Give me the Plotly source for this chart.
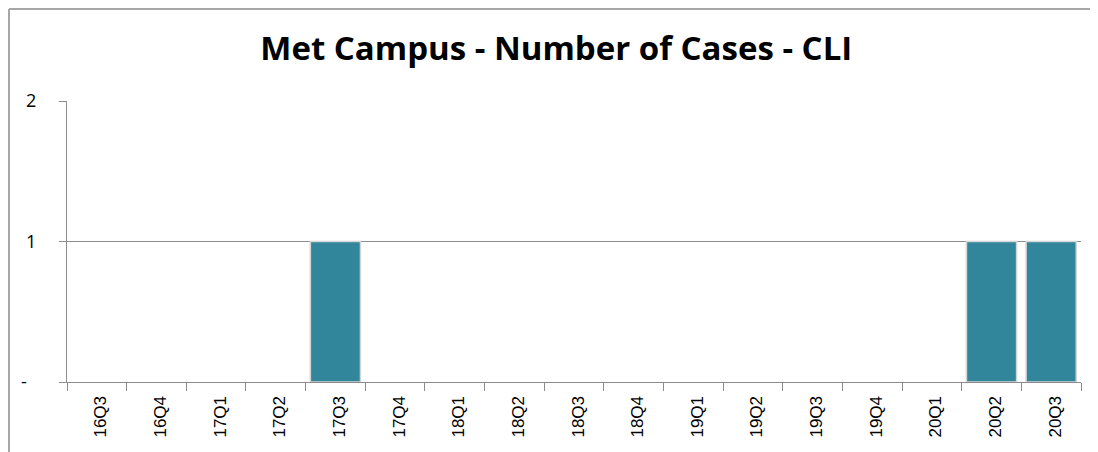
import plotly.graph_objects as go

categories = ["16Q3", "16Q4", "17Q1", "17Q2", "17Q3", "17Q4", "18Q1", "18Q2", "18Q3",
              "18Q4", "19Q1", "19Q2", "19Q3", "19Q4", "20Q1", "20Q2", "20Q3"]
cases = [0, 0, 0, 0, 1, 0, 0, 0, 0, 0, 0, 0, 0, 0, 0, 1, 1]
y_tickvals = [0, 1, 2]
y_ticktext = ["-\u00a0\u00a0", "1", "2"]
title_text = "Met Campus - Number of Cases - CLI"

GRID = "#8c8c8c"

fig = go.Figure(go.Bar(
    x=categories, y=cases,
    marker=dict(color="#31869B",
                line=dict(color="#d4d4d4", width=[1.5 if v else 0 for v in cases])),
    hoverinfo="x+y",
))

fig.update_layout(
    width=1090, height=444,
    margin=dict(l=59, r=17, t=93, b=70, autoexpand=False),
    paper_bgcolor="white", plot_bgcolor="white",
    bargap=0.16,
    showlegend=False,
    title=dict(text="<b>" + title_text + "</b>", x=0.503, xanchor="center",
               y=0.908, yanchor="middle",
               font=dict(family="Open Sans, sans-serif", size=33, color="black")),
    xaxis=dict(
        type="category", tickson="boundaries", ticks="outside", ticklen=8,
        tickcolor=GRID, tickwidth=1.3, showgrid=False,
        showline=True, linecolor=GRID, linewidth=1.3,
        tickangle=-90, ticklabelstandoff=6, ticklabelshift=4,
        tickfont=dict(family="Liberation Sans", size=17, color="black"),
    ),
    yaxis=dict(
        range=[0, 2], tickvals=y_tickvals, ticktext=y_ticktext,
        ticks="outside", ticklen=7, tickcolor=GRID, tickwidth=1.3,
        showgrid=True, gridcolor=GRID, gridwidth=1.3,
        showline=True, linecolor=GRID, linewidth=1.3,
        zeroline=False, ticklabelstandoff=19,
        tickfont=dict(family="Open Sans, sans-serif", size=18, color="black"),
    ),
)

# outer chart border (top and left edges visible in the reference)
fig.add_shape(type="line", xref="paper", yref="paper",
              x0=-0.0572, x1=1.03, y0=1.327, y1=1.327,
              line=dict(color="#a6a6a6", width=2))
fig.add_shape(type="line", xref="paper", yref="paper",
              x0=-0.0572, x1=-0.0572, y0=1.327, y1=-0.3,
              line=dict(color="#a6a6a6", width=2))

fig.write_html("out.html")
